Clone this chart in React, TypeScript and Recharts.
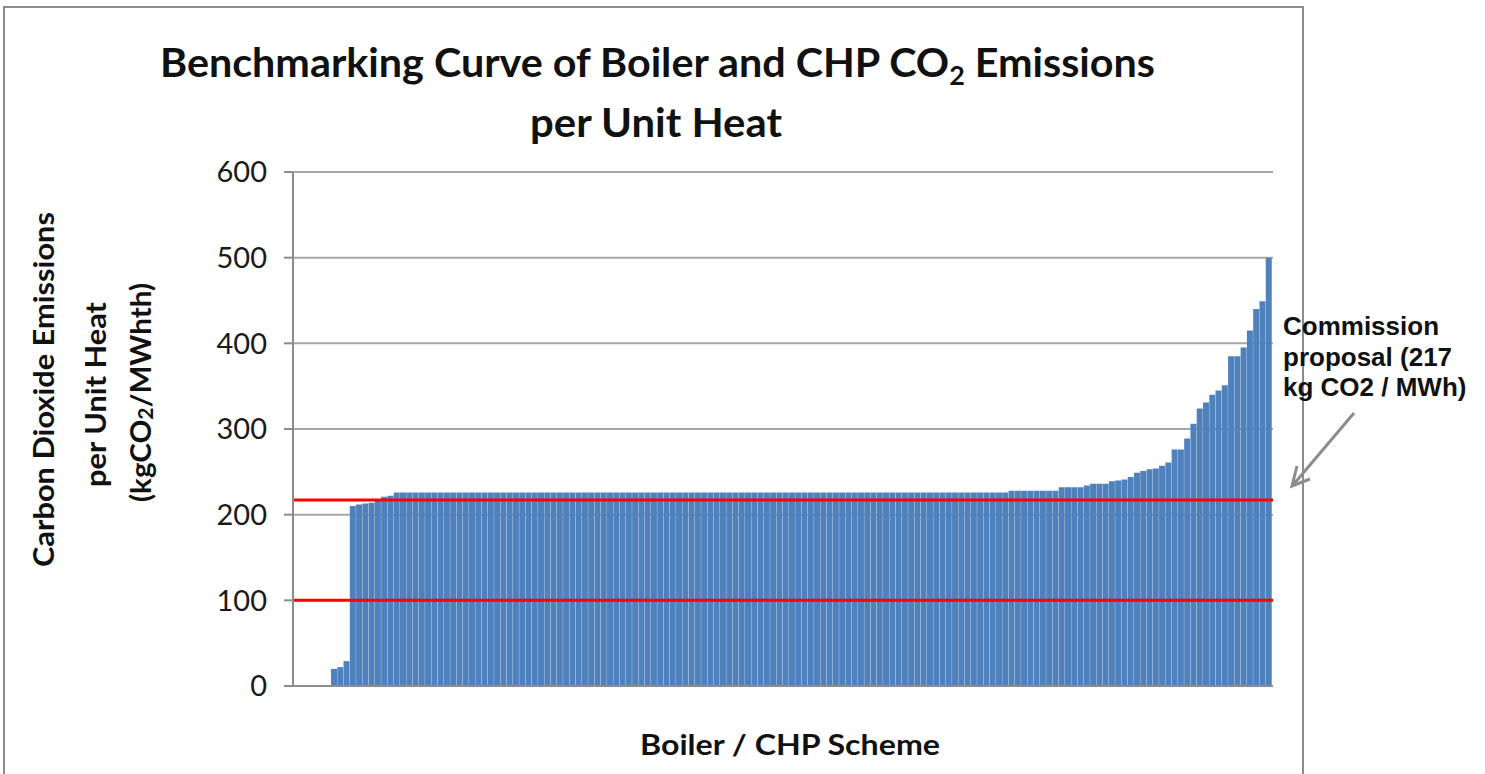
import { BarChart, Bar, XAxis, YAxis, CartesianGrid, ReferenceLine } from 'recharts'

// emissions per scheme, kgCO2/MWhth, read left to right off the curve
const lowSchemes = [20, 22, 29]
const rampSchemes = [210, 212, 213, 214, 216, 221, 222]
const plateauSchemes = [
  226, 226, 226, 226, 226, 226, 226, 226, 226, 226, 226, 226, 226, 226,
  226, 226, 226, 226, 226, 226, 226, 226, 226, 226, 226, 226, 226, 226,
  226, 226, 226, 226, 226, 226, 226, 226, 226, 226, 226, 226, 226, 226,
  226, 226, 226, 226, 226, 226, 226, 226, 226, 226, 226, 226, 226, 226,
  226, 226, 226, 226, 226, 226, 226, 226, 226, 226, 226, 226, 226, 226,
  226, 226, 226, 226, 226, 226, 226, 226, 226, 226, 226, 226, 226, 226,
  226, 226, 226, 226, 226, 226, 226, 226, 226, 226, 226, 226, 226, 226,
]
const tailSchemes = [
  228, 228, 228, 228, 228, 228, 228, 228, 232, 232, 232, 232, 234, 236,
  236, 236, 239, 240, 241, 244, 249, 251, 253, 254, 257, 261, 276, 276,
  289, 306, 324, 331, 340, 345, 351, 385, 385, 395, 415, 440, 449, 500,
]
const yTicks = [0, 100, 200, 300, 400, 500, 600]
const commissionProposal = 217
const lowerLimit = 100

const values = [...lowSchemes, ...rampSchemes, ...plateauSchemes, ...tailSchemes]
const data = values.map((v, i) => ({ scheme: `S${i + 1}`, value: v }))

const FONT = 'Lato, "Open Sans", sans-serif'
const GREY = '#8c8c8c'

export default function App() {
  return (
    <div style={{ position: 'absolute', left: 0, top: 0, width: 1485, height: 774, background: '#fff' }}>
      <BarChart
        width={1485}
        height={774}
        data={data}
        margin={{ top: 172, right: 212, bottom: 58, left: 213 }}
        barCategoryGap={0}
        barGap={0}
      >
        <CartesianGrid vertical={false} stroke="#a6a6a6" strokeWidth={2} />
        <XAxis
          dataKey="scheme"
          height={30}
          tick={false}
          tickLine={false}
          axisLine={{ stroke: GREY, strokeWidth: 2 }}
          padding={{ left: 38, right: 1 }}
        />
        <YAxis
          width={80}
          domain={[0, 600]}
          ticks={yTicks}
          tickSize={9}
          tickMargin={17}
          axisLine={{ stroke: GREY, strokeWidth: 2 }}
          tickLine={{ stroke: GREY, strokeWidth: 2 }}
          tick={{ fill: '#1a1a1a', fontSize: 29, fontFamily: FONT }}
        />
        <Bar dataKey="value" fill="#4f81bd" isAnimationActive={false} />
        <ReferenceLine y={commissionProposal} stroke="#ff0000" strokeWidth={3} />
        <ReferenceLine y={lowerLimit} stroke="#ff0000" strokeWidth={3} />
      </BarChart>

      <svg
        width={1485}
        height={774}
        style={{ position: 'absolute', left: 0, top: 0, pointerEvents: 'none' }}
        fontFamily={FONT}
      >
        {/* chart frame, cut off at the bottom */}
        <polyline points="4,780 4,7 1303,7 1303,780" fill="none" stroke={GREY} strokeWidth={2} />

        <text x={160} y={77} fontSize={40} fontWeight={700} fill="#111" textLength={995} lengthAdjust="spacingAndGlyphs">
          Benchmarking Curve of Boiler and CHP CO<tspan fontSize={26} dy={8}>2</tspan>
          <tspan dy={-8}> Emissions</tspan>
        </text>
        <text x={530} y={137} fontSize={40} fontWeight={700} fill="#111" textLength={252} lengthAdjust="spacingAndGlyphs">
          per Unit Heat
        </text>

        <g fontSize={28} fontWeight={700} fill="#111">
          {/* rotated axis title: x is minus the bottom end, y is the column */}
          <text x={-567} y={43} transform="rotate(-90)" dominantBaseline="central" textLength={355} lengthAdjust="spacingAndGlyphs">
            Carbon Dioxide Emissions
          </text>
          <text x={-487} y={95} transform="rotate(-90)" dominantBaseline="central" textLength={185} lengthAdjust="spacingAndGlyphs">
            per Unit Heat
          </text>
          <text x={-502} y={140} transform="rotate(-90)" dominantBaseline="central" textLength={219} lengthAdjust="spacingAndGlyphs">
            (kgCO<tspan fontSize={20} dy={5}>2</tspan>
            <tspan dy={-5}>/MWhth)</tspan>
          </text>
          <text x={640} y={755} textLength={300} lengthAdjust="spacingAndGlyphs">
            Boiler / CHP Scheme
          </text>
        </g>

        <g fontFamily='"Liberation Sans", Arial, sans-serif' fontSize={26} fontWeight={700} fill="#111">
          <text x={1283} y={335}>Commission</text>
          <text x={1283} y={366}>proposal (217</text>
          <text x={1283} y={396}>kg CO2 / MWh)</text>
        </g>

        <line x1={1354} y1={413} x2={1293} y2={485} stroke={GREY} strokeWidth={3} />
        <polyline points="1310,479 1292,486 1297,466" fill="none" stroke={GREY} strokeWidth={3} />
      </svg>
    </div>
  )
}
